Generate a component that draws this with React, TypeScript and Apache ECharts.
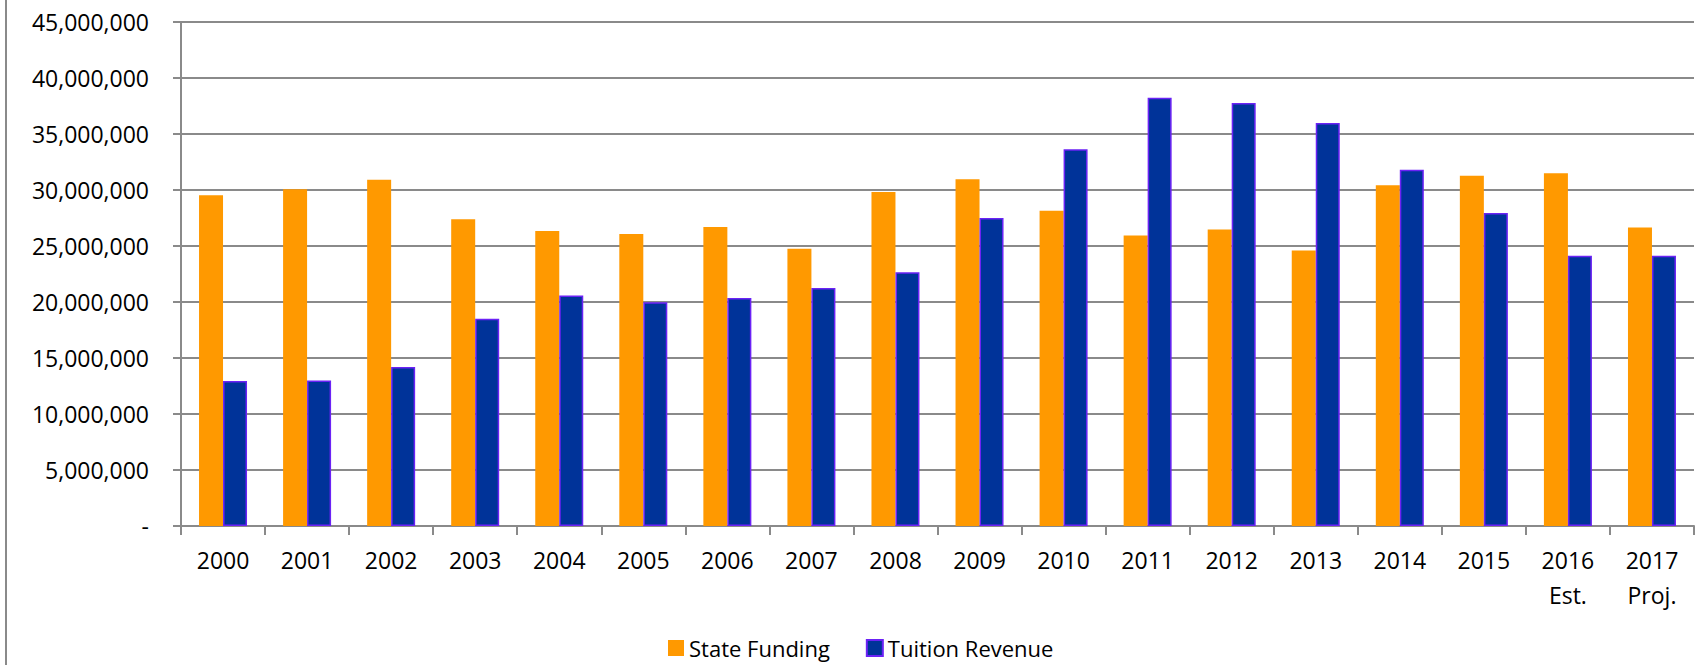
import React, { useEffect, useRef } from "react";
import * as echarts from "echarts";

const categories = [
  "2000", "2001", "2002", "2003", "2004", "2005", "2006", "2007", "2008",
  "2009", "2010", "2011", "2012", "2013", "2014", "2015", "2016\nEst.", "2017\nProj.",
];

const stateFunding = [
  29530000, 30060000, 30920000, 27380000, 26350000, 26070000, 26690000, 24750000, 29830000,
  30960000, 28140000, 25940000, 26470000, 24590000, 30430000, 31270000, 31490000, 26660000,
];

const tuitionRevenue = [
  12950000, 13000000, 14200000, 18510000, 20580000, 19980000, 20360000, 21240000, 22650000,
  27510000, 33630000, 38240000, 37770000, 35980000, 31810000, 27950000, 24120000, 24120000,
];

const seriesNames = ["State Funding", "Tuition Revenue"];

const yMin = 0;
const yMax = 45000000;
const yInterval = 5000000;

export default function App() {
  const ref = useRef<HTMLDivElement>(null);

  useEffect(() => {
    if (!ref.current) return;
    const chart = echarts.init(ref.current, null, { renderer: "svg" });
    const font = "'Open Sans', 'Noto Sans', sans-serif";
    const axisGray = "#8a8a8a";
    chart.setOption({
      animation: false,
      backgroundColor: "#ffffff",
      textStyle: { fontFamily: font, color: "#000" },
      grid: { left: 181, right: 1, top: 22, bottom: 139, containLabel: false },
      legend: {
        data: seriesNames,
        left: 668,
        top: 637,
        padding: 0,
        itemWidth: 16,
        itemHeight: 16,
        itemGap: 36,
        icon: "rect",
        textStyle: { fontFamily: font, fontSize: 22, lineHeight: 20, color: "#000" },
      },
      xAxis: {
        type: "category",
        data: categories,
        axisLine: { show: true, lineStyle: { color: axisGray, width: 2 } },
        axisTick: { show: true, length: 9, lineStyle: { color: axisGray, width: 2 } },
        axisLabel: {
          interval: 0,
          margin: 16,
          fontFamily: font,
          fontSize: 23,
          lineHeight: 35,
          color: "#000",
        },
      },
      yAxis: {
        type: "value",
        min: yMin,
        max: yMax,
        interval: yInterval,
        axisLine: { show: true, lineStyle: { color: axisGray, width: 2 } },
        axisTick: { show: true, length: 8, lineStyle: { color: axisGray, width: 2 } },
        splitLine: { show: true, lineStyle: { color: axisGray, width: 2 } },
        axisLabel: {
          margin: 32,
          fontFamily: font,
          fontSize: 23,
          color: "#000",
          formatter: (v: number) => (v === 0 ? "-" : v.toLocaleString("en-US")),
        },
      },
      graphic: [
        {
          type: "line",
          shape: { x1: 6, y1: 0, x2: 6, y2: 665 },
          style: { stroke: axisGray, lineWidth: 2 },
        },
      ],
      series: [
        {
          name: seriesNames[0],
          type: "bar",
          data: stateFunding,
          barWidth: 24,
          barGap: "0%",
          itemStyle: { color: "#FF9900" },
        },
        {
          name: seriesNames[1],
          type: "bar",
          data: tuitionRevenue,
          barWidth: 24,
          barGap: "0%",
          itemStyle: { color: "#003399", borderColor: "#6B22F5", borderWidth: 1.5 },
        },
      ],
    });
    return () => chart.dispose();
  }, []);

  return (
    <div
      ref={ref}
      style={{ position: "fixed", left: 0, top: 0, width: 1695, height: 665 }}
    />
  );
}
